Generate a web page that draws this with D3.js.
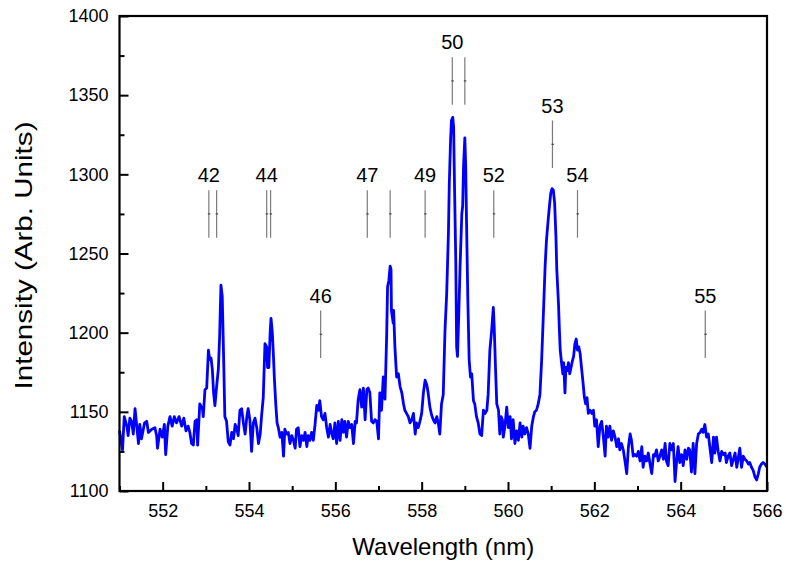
<!DOCTYPE html>
<html>
<head>
<meta charset="utf-8">
<script src="https://cdn.jsdelivr.net/npm/d3@7"></script>
<style>
  body { margin: 0; background: #fff; }
  text { font-family: "Liberation Sans", Arial, sans-serif; fill: #000; }
</style>
</head>
<body>
<script>
// spectrum (nm, arb. units)
var wavelengths = [
  551.00,551.07,551.11,551.17,551.20,551.24,551.28,551.32,551.36,551.40,551.44,551.47,551.51,551.58,551.63,551.67,551.75,551.82,551.86,551.88,
  551.94,551.99,552.04,552.07,552.12,552.17,552.22,552.27,552.32,552.38,552.44,552.49,552.54,552.59,552.63,552.67,552.71,552.75,552.79,552.81,
  552.86,552.92,552.94,552.98,553.02,553.06,553.09,553.12,553.15,553.18,553.21,553.25,553.29,553.32,553.35,553.38,553.41,553.44,553.48,553.52,
  553.56,553.60,553.64,553.68,553.71,553.75,553.79,553.83,553.87,553.91,553.95,553.98,554.02,554.06,554.10,554.14,554.18,554.22,554.26,554.29,
  554.33,554.37,554.41,554.43,554.46,554.49,554.51,554.54,554.56,554.59,554.62,554.65,554.68,554.72,554.76,554.80,554.83,554.87,554.91,554.95,
  554.99,555.03,555.07,555.10,555.14,555.18,555.22,555.26,555.30,555.34,555.37,555.41,555.45,555.49,555.53,555.57,555.61,555.64,555.68,555.72,
  555.76,555.80,555.84,555.88,555.91,555.95,555.99,556.03,556.07,556.11,556.15,556.19,556.22,556.26,556.30,556.34,556.38,556.42,556.46,556.49,
  556.53,556.57,556.61,556.65,556.69,556.73,556.76,556.80,556.84,556.88,556.92,556.96,557.00,557.03,557.07,557.11,557.15,557.19,557.21,557.24,
  557.27,557.29,557.30,557.34,557.35,557.38,557.42,557.46,557.50,557.54,557.58,557.61,557.65,557.69,557.73,557.77,557.81,557.85,557.88,557.92,
  557.96,558.00,558.04,558.08,558.12,558.15,558.19,558.23,558.27,558.31,558.35,558.39,558.42,558.46,558.50,558.54,558.58,558.62,558.64,558.67,
  558.69,558.72,558.74,558.76,558.79,558.81,558.83,558.86,558.89,558.93,558.95,558.97,559.00,559.02,559.04,559.07,559.10,559.13,559.16,559.20,
  559.23,559.27,559.31,559.35,559.39,559.43,559.47,559.51,559.54,559.58,559.62,559.66,559.68,559.71,559.74,559.78,559.81,559.84,559.87,559.89,
  559.93,559.97,560.01,560.05,560.08,560.12,560.16,560.20,560.24,560.28,560.32,560.35,560.39,560.43,560.47,560.51,560.55,560.59,560.62,560.66,
  560.70,560.74,560.78,560.82,560.86,560.89,560.93,560.96,560.99,561.02,561.05,561.08,561.11,561.13,561.17,561.19,561.21,561.24,561.27,561.29,
  561.32,561.34,561.37,561.40,561.43,561.46,561.49,561.52,561.55,561.58,561.61,561.64,561.67,561.71,561.74,561.77,561.80,561.83,561.86,561.90,
  561.94,561.98,562.01,562.05,562.09,562.13,562.17,562.21,562.25,562.28,562.32,562.36,562.40,562.44,562.48,562.52,562.56,562.59,562.63,562.67,
  562.71,562.75,562.79,562.83,562.86,562.90,562.94,562.98,563.02,563.06,563.10,563.13,563.17,563.21,563.25,563.29,563.33,563.37,563.40,563.44,
  563.48,563.52,563.56,563.60,563.64,563.67,563.71,563.75,563.79,563.83,563.87,563.91,563.94,563.98,564.02,564.06,564.10,564.14,564.18,564.21,
  564.25,564.29,564.33,564.37,564.41,564.45,564.49,564.52,564.56,564.60,564.64,564.68,564.72,564.76,564.79,564.83,564.87,564.91,564.95,564.99,
  565.03,565.06,565.10,565.14,565.18,565.22,565.26,565.30,565.33,565.37,565.41,565.45,565.49,565.53,565.57,565.60,565.64,565.68,565.72,565.76,
  565.80,565.83,565.87,565.91,565.95,566.00
];
var intensity = [
  1138,1126,1147,1141,1135,1146,1144,1136,1152,1141,1130,1142,1133,1143,1144,1137,1139,1140,1135,1127,
  1139,1134,1142,1123,1141,1147,1141,1147,1143,1147,1141,1146,1138,1141,1137,1130,1129,1144,1145,1129,
  1155,1152,1147,1164,1165,1189,1183,1184,1177,1162,1154,1166,1177,1198,1230,1223,1187,1147,1144,1131,
  1129,1137,1133,1142,1140,1135,1151,1152,1143,1136,1147,1152,1145,1125,1143,1146,1140,1130,1136,1147,
  1159,1193,1191,1178,1178,1200,1209,1200,1189,1170,1155,1143,1140,1134,1137,1122,1139,1136,1137,1130,
  1135,1132,1127,1139,1140,1128,1135,1132,1137,1128,1135,1132,1137,1132,1142,1154,1151,1157,1147,1145,
  1149,1140,1134,1142,1137,1133,1143,1130,1144,1132,1145,1137,1144,1134,1144,1140,1142,1130,1144,1143,
  1158,1164,1153,1165,1145,1164,1165,1162,1144,1143,1145,1144,1133,1162,1151,1172,1158,1199,1229,1233,
  1242,1240,1214,1206,1214,1191,1172,1174,1166,1162,1155,1151,1149,1147,1143,1145,1149,1136,1143,1140,
  1144,1149,1162,1170,1167,1162,1153,1148,1145,1143,1147,1142,1136,1155,1161,1201,1225,1263,1294,1322,
  1334,1336,1330,1294,1246,1191,1185,1212,1242,1275,1280,1305,1323,1305,1269,1220,1183,1172,1174,1157,
  1155,1147,1143,1136,1135,1151,1149,1151,1161,1189,1201,1216,1204,1178,1155,1151,1136,1147,1145,1134,
  1141,1153,1140,1147,1133,1145,1130,1138,1132,1143,1134,1141,1136,1140,1136,1127,1141,1147,1150,1151,
  1155,1161,1183,1212,1242,1258,1271,1280,1288,1291,1290,1282,1261,1240,1218,1202,1189,1181,1174,1181,
  1162,1178,1176,1181,1174,1178,1182,1185,1193,1196,1189,1191,1187,1176,1168,1159,1155,1159,1149,1151,
  1149,1151,1141,1145,1128,1141,1144,1134,1122,1141,1134,1141,1132,1138,1134,1128,1133,1126,1130,1126,
  1119,1111,1128,1136,1132,1122,1123,1122,1125,1119,1128,1115,1122,1119,1124,1117,1111,1123,1122,1126,
  1119,1122,1126,1120,1130,1119,1116,1130,1126,1130,1106,1120,1128,1118,1123,1116,1126,1120,1127,1126,
  1112,1130,1111,1130,1136,1137,1139,1137,1142,1134,1136,1127,1118,1134,1124,1134,1125,1119,1125,1123,
  1124,1118,1122,1124,1116,1120,1124,1115,1120,1127,1115,1122,1120,1119,1117,1118,1115,1113,1109,1107,
  1111,1115,1117,1118,1117,1115
];

// transition markers: label, line positions (nm), top of the line (arb. units)
var markerLabels = ["42", "44", "46", "47", "49", "50", "52", "53", "54", "55"];
var markerWaves = [[553.07, 553.25], [554.41, 554.50], [555.66], [556.74, 557.27], [558.08],
                   [558.71, 559.00], [559.67], [561.03], [561.61], [564.57]];
var markerTops = [1290, 1290, 1214, 1290, 1290, 1374, 1290, 1334, 1290, 1214];
var markerSpan = 30;

var xMajor = [552, 554, 556, 558, 560, 562, 564, 566];
var xMinor = [551, 553, 555, 557, 559, 561, 563, 565];
var yMajor = [1100, 1150, 1200, 1250, 1300, 1350, 1400];
var yMinor = [1125, 1175, 1225, 1275, 1325, 1375];

var margin = {top: 16, right: 19, bottom: 72, left: 119.5};
var width = 786 - margin.left - margin.right,
    height = 563 - margin.top - margin.bottom;

var x = d3.scaleLinear().domain([551, 566]).range([0, width]);
var y = d3.scaleLinear().domain([1100, 1400]).range([height, 0]);

var svg = d3.select("body").append("svg")
    .attr("width", 786)
    .attr("height", 563)
  .append("g")
    .attr("transform", "translate(" + margin.left + "," + margin.top + ")");

// axes, ticks pointing inwards
svg.append("g")
    .attr("transform", "translate(0," + height + ")")
    .call(d3.axisBottom(x).tickValues(xMajor).tickSize(-9).tickPadding(13).tickFormat(d3.format("d")))
    .call(function(g) { g.select(".domain").remove(); });
svg.append("g")
    .attr("transform", "translate(0," + height + ")")
    .call(d3.axisBottom(x).tickValues(xMinor).tickSize(-5).tickFormat(""))
    .call(function(g) { g.select(".domain").remove(); });
svg.append("g")
    .call(d3.axisLeft(y).tickValues(yMajor).tickSize(-9).tickPadding(11).tickFormat(d3.format("d")))
    .call(function(g) { g.select(".domain").remove(); });
svg.append("g")
    .call(d3.axisLeft(y).tickValues(yMinor).tickSize(-5).tickFormat(""))
    .call(function(g) { g.select(".domain").remove(); });

svg.selectAll(".tick line").attr("stroke", "#000").attr("stroke-width", 2);
svg.selectAll(".tick text").style("font-size", "18px").attr("fill", "#000");

// spectrum
var line = d3.line()
    .x(function(d, i) { return x(wavelengths[i]); })
    .y(function(d) { return y(d); });

svg.append("path")
    .datum(intensity)
    .attr("fill", "none")
    .attr("stroke", "#0000ff")
    .attr("stroke-width", 2.8)
    .attr("stroke-linejoin", "round")
    .attr("d", line);

// marker lines with labels
var marker = svg.selectAll(".marker")
    .data(markerLabels)
  .enter().append("g")
    .attr("class", "marker");

marker.each(function(label, i) {
  var g = d3.select(this);
  var top = markerTops[i];
  markerWaves[i].forEach(function(w) {
    g.append("line")
      .attr("x1", x(w)).attr("x2", x(w))
      .attr("y1", y(top)).attr("y2", y(top - markerSpan))
      .attr("stroke", "#7a7a7a")
      .attr("stroke-width", 1.2);
    g.append("line")
      .attr("x1", x(w) - 1).attr("x2", x(w) + 1.5)
      .attr("y1", y(top - markerSpan / 2)).attr("y2", y(top - markerSpan / 2))
      .attr("stroke", "#333")
      .attr("stroke-width", 1);
  });
  g.append("text")
    .attr("x", x(markerWaves[i][0]))
    .attr("y", y(top) - 8)
    .attr("text-anchor", "middle")
    .style("font-size", "20px")
    .text(label);
});

// frame
svg.append("rect")
    .attr("width", width)
    .attr("height", height)
    .attr("fill", "none")
    .attr("stroke", "#000")
    .attr("stroke-width", 2.2);

// axis titles
svg.append("text")
    .attr("x", width / 2)
    .attr("y", height + 64)
    .attr("text-anchor", "middle")
    .style("font-size", "24px")
    .text("Wavelength (nm)");

svg.append("text")
    .attr("transform", "translate(" + (-margin.left + 32) + "," + (height / 2 + 2) + ") rotate(-90)")
    .attr("text-anchor", "middle")
    .attr("textLength", 268)
    .attr("lengthAdjust", "spacingAndGlyphs")
    .style("font-size", "24px")
    .text("Intensity (Arb. Units)");
</script>
</body>
</html>
